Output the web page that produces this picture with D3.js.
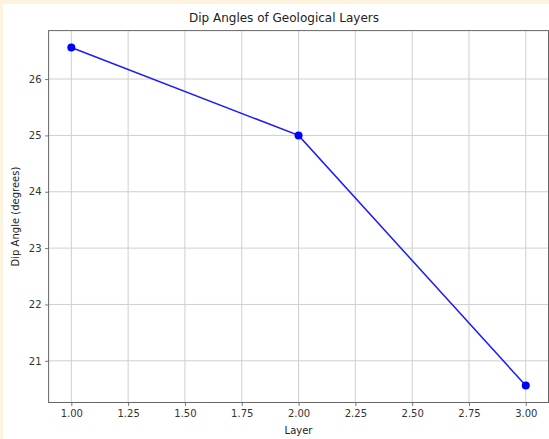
<!DOCTYPE html>
<html>
<head>
<meta charset="utf-8">
<script src="https://cdn.jsdelivr.net/npm/d3@7"></script>
<style>
  html, body { margin: 0; padding: 0; background: #fef3dc; }
  svg { display: block; }
  text { font-family: "DejaVu Sans", sans-serif; }
</style>
</head>
<body>
<div id="chart"></div>
<script>
// data
const layers = [1, 2, 3];
const dipAngles = [26.56, 25.0, 20.56];
const xTicks = [1.0, 1.25, 1.5, 1.75, 2.0, 2.25, 2.5, 2.75, 3.0];
const yTicks = [21, 22, 23, 24, 25, 26];

const width = 549, height = 439;
const margin = { top: 30.6, right: 0.5, bottom: 36.5, left: 48.6 };

const svg = d3.select('#chart').append('svg')
  .attr('width', width)
  .attr('height', height);

// white card on the yellow frame
svg.append('rect')
  .attr('x', 3).attr('y', 4)
  .attr('width', width - 3).attr('height', height - 4)
  .attr('fill', '#fff');

const data = layers.map((l, i) => ({ layer: l, dip: dipAngles[i] }));

const xPad = (d3.max(layers) - d3.min(layers)) * 0.05;
const yPad = (d3.max(dipAngles) - d3.min(dipAngles)) * 0.05;

const x = d3.scaleLinear()
  .domain([d3.min(layers) - xPad, d3.max(layers) + xPad])
  .range([margin.left, width - margin.right]);

const y = d3.scaleLinear()
  .domain([d3.min(dipAngles) - yPad, d3.max(dipAngles) + yPad])
  .range([height - margin.bottom, margin.top]);

// grid
const grid = svg.append('g').attr('id', 'grid');
grid.selectAll('line.vx')
  .data(xTicks)
  .join('line')
  .attr('class', 'vx')
  .attr('x1', d => x(d)).attr('x2', d => x(d))
  .attr('y1', margin.top).attr('y2', height - margin.bottom)
  .attr('stroke', '#cfcfcf').attr('stroke-width', 1);
grid.selectAll('line.hy')
  .data(yTicks)
  .join('line')
  .attr('class', 'hy')
  .attr('x1', margin.left).attr('x2', width - margin.right)
  .attr('y1', d => y(d)).attr('y2', d => y(d))
  .attr('stroke', '#cfcfcf').attr('stroke-width', 1);

// axes
const xAxis = svg.append('g')
  .attr('transform', `translate(0,${height - margin.bottom})`)
  .call(d3.axisBottom(x).tickValues(xTicks).tickFormat(d3.format('.2f')).tickSize(3.5).tickPadding(3.5));
const yAxis = svg.append('g')
  .attr('transform', `translate(${margin.left},0)`)
  .call(d3.axisLeft(y).tickValues(yTicks).tickFormat(d3.format('d')).tickSize(3.5).tickPadding(3.5));

[xAxis, yAxis].forEach(a => {
  a.select('.domain').remove();
  a.selectAll('.tick line').attr('stroke', '#555').attr('stroke-width', 0.8);
  a.selectAll('.tick text')
    .attr('fill', '#333')
    .style('font-family', '"DejaVu Sans", sans-serif')
    .style('font-size', '10px');
});

// spines
svg.append('rect')
  .attr('x', margin.left).attr('y', margin.top)
  .attr('width', width - margin.right - margin.left)
  .attr('height', height - margin.bottom - margin.top)
  .attr('fill', 'none')
  .attr('stroke', '#666')
  .attr('stroke-width', 1);

// line + markers
const line = d3.line().x(d => x(d.layer)).y(d => y(d.dip));
svg.append('path')
  .datum(data)
  .attr('d', line)
  .attr('fill', 'none')
  .attr('stroke', '#1a1aff')
  .attr('stroke-width', 1.5);

svg.selectAll('circle.pt')
  .data(data)
  .join('circle')
  .attr('class', 'pt')
  .attr('cx', d => x(d.layer))
  .attr('cy', d => y(d.dip))
  .attr('r', 4)
  .attr('fill', '#0000ff');

// labels
svg.append('text')
  .attr('x', 284).attr('y', 22)
  .attr('text-anchor', 'middle')
  .attr('fill', '#222')
  .style('font-size', '12px')
  .text('Dip Angles of Geological Layers');

svg.append('text')
  .attr('x', (margin.left + width - margin.right) / 2)
  .attr('y', 434)
  .attr('text-anchor', 'middle')
  .attr('fill', '#222')
  .style('font-size', '10px')
  .text('Layer');

svg.append('text')
  .attr('transform', `translate(19,${(margin.top + height - margin.bottom) / 2}) rotate(-90)`)
  .attr('text-anchor', 'middle')
  .attr('fill', '#222')
  .style('font-size', '10px')
  .text('Dip Angle (degrees)');
</script>
</body>
</html>
